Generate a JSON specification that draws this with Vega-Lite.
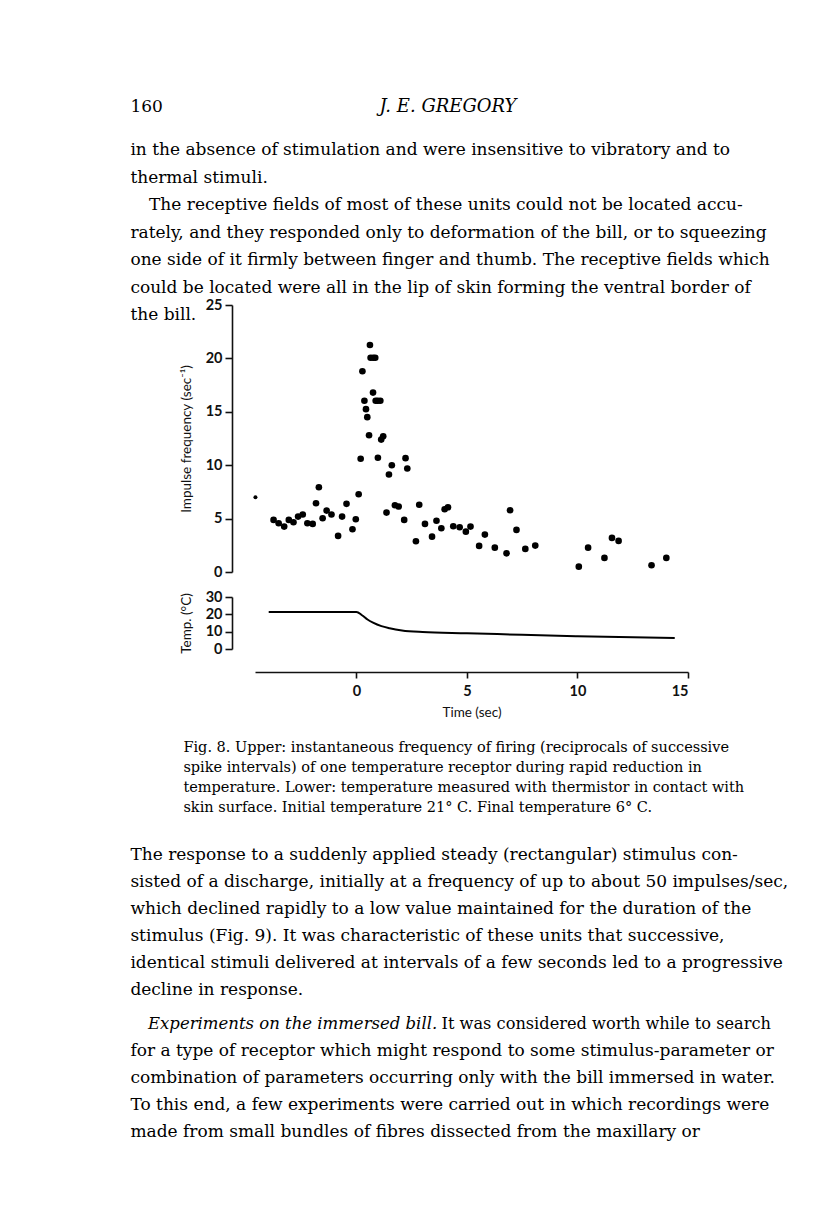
{
  "$schema": "https://vega.github.io/schema/vega-lite/v6.json",
  "background": "white",
  "padding": {"left": 130, "top": 0, "right": 5, "bottom": 5},
  "bounds": "flush",
  "spacing": 25,
  "config": {
    "view": {"stroke": null},
    "axis": {
      "domainColor": "#111", "tickColor": "#111", "labelColor": "#111", "titleColor": "#111",
      "domainWidth": 1.6, "tickWidth": 1.6, "grid": false,
      "labelFont": "Lato", "labelFontSize": 14.5, "labelFontWeight": "bold",
      "titleFont": "Lato", "titleFontSize": 13.5, "titleFontWeight": "normal"
    }
  },
  "vconcat": [
    {
      "width": 433,
      "height": 280,
      "resolve": {"scale": {"y": "independent"}},
      "layer": [
        {
          "data": {"values": [{"t": "160"}]},
          "mark": {"type": "text", "align": "left", "baseline": "middle", "font": "DejaVu Serif", "fontSize": 17, "color": "#000"},
          "encoding": {"text": {"field": "t"}, "x": {"value": -124.6}, "y": {"value": 107}}
        },
        {
          "data": {"values": [{"t": "J. E. GREGORY"}]},
          "mark": {"type": "text", "align": "center", "baseline": "middle", "font": "DejaVu Serif", "fontStyle": "italic", "fontSize": 18, "letterSpacing": 2.2, "color": "#000"},
          "encoding": {"text": {"field": "t"}, "x": {"value": 193}, "y": {"value": 107}}
        },
        {
          "data": {"values": [
            {"i": 0, "t": "in the absence of stimulation and were insensitive to vibratory and to"},
            {"i": 1, "t": "thermal stimuli."},
            {"i": 3, "t": "rately, and they responded only to deformation of the bill, or to squeezing"},
            {"i": 4, "t": "one side of it firmly between finger and thumb. The receptive fields which"},
            {"i": 5, "t": "could be located were all in the lip of skin forming the ventral border of"},
            {"i": 6, "t": "the bill."}
          ]},
          "mark": {"type": "text", "align": "left", "baseline": "middle", "font": "DejaVu Serif", "fontSize": 17, "color": "#000"},
          "encoding": {
            "text": {"field": "t"},
            "x": {"value": -124.6},
            "y": {"field": "i", "type": "quantitative", "axis": null, "scale": {"domain": [0, 6], "range": [150, 315], "nice": false, "zero": false}}
          }
        },
        {
          "data": {"values": [
            {"i": 2, "t": "The receptive fields of most of these units could not be located accu-"}
          ]},
          "mark": {"type": "text", "align": "left", "baseline": "middle", "font": "DejaVu Serif", "fontSize": 17, "color": "#000"},
          "encoding": {
            "text": {"field": "t"},
            "x": {"value": -106},
            "y": {"field": "i", "type": "quantitative", "axis": null, "scale": {"domain": [0, 6], "range": [150, 315], "nice": false, "zero": false}}
          }
        }
      ]
    },
    {
      "width": 433,
      "height": 267,
      "encoding": {
        "x": {"field": "t", "type": "quantitative", "axis": null, "scale": {"domain": [-4.59, 15], "nice": false, "zero": false}},
        "y": {"field": "f", "type": "quantitative",
          "scale": {"domain": [0, 25], "nice": false},
          "axis": {"values": [0, 5, 10, 15, 20, 25], "offset": 23, "tickSize": 7, "labelPadding": 3, "titlePadding": 12, "title": "Impulse frequency (sec\u207b\u00b9)"}}
      },
      "layer": [
        {
          "data": {"values": [
            {"t": -3.75, "f": 4.88}, {"t": -3.52, "f": 4.56}, {"t": -3.27, "f": 4.25}, {"t": -3.06, "f": 4.88},
            {"t": -2.85, "f": 4.66}, {"t": -2.64, "f": 5.19}, {"t": -2.43, "f": 5.38}, {"t": -2.22, "f": 4.56},
            {"t": -1.98, "f": 4.5}, {"t": -1.83, "f": 6.44}, {"t": -1.7, "f": 7.94}, {"t": -1.53, "f": 5.03},
            {"t": -1.35, "f": 5.75}, {"t": -1.13, "f": 5.38}, {"t": -0.83, "f": 3.38}, {"t": -0.65, "f": 5.19},
            {"t": -0.45, "f": 6.38}, {"t": -0.18, "f": 4.0}, {"t": -0.03, "f": 4.94}, {"t": 0.1, "f": 7.28},
            {"t": 0.19, "f": 10.6}, {"t": 0.27, "f": 18.8}, {"t": 0.36, "f": 16.03}, {"t": 0.43, "f": 15.25},
            {"t": 0.49, "f": 14.5}, {"t": 0.57, "f": 12.8}, {"t": 0.61, "f": 21.25}, {"t": 0.64, "f": 20.06},
            {"t": 0.76, "f": 20.06}, {"t": 0.85, "f": 20.06}, {"t": 0.75, "f": 16.8}, {"t": 0.87, "f": 16.03},
            {"t": 0.96, "f": 16.03}, {"t": 1.08, "f": 16.03}, {"t": 0.97, "f": 10.7}, {"t": 1.12, "f": 12.4},
            {"t": 1.21, "f": 12.7}, {"t": 1.36, "f": 5.56}, {"t": 1.47, "f": 9.13}, {"t": 1.6, "f": 10.0},
            {"t": 1.74, "f": 6.25}, {"t": 1.91, "f": 6.13}, {"t": 2.16, "f": 4.88}, {"t": 2.22, "f": 10.66},
            {"t": 2.3, "f": 9.69}, {"t": 2.69, "f": 2.88}, {"t": 2.84, "f": 6.3}, {"t": 3.1, "f": 4.5},
            {"t": 3.42, "f": 3.31}, {"t": 3.62, "f": 4.8}, {"t": 3.84, "f": 4.1}, {"t": 3.99, "f": 5.88},
            {"t": 4.14, "f": 6.06}, {"t": 4.38, "f": 4.28}, {"t": 4.67, "f": 4.19}, {"t": 4.95, "f": 3.78},
            {"t": 5.16, "f": 4.25}, {"t": 5.55, "f": 2.44}, {"t": 5.81, "f": 3.5}, {"t": 6.26, "f": 2.28},
            {"t": 6.79, "f": 1.75}, {"t": 6.95, "f": 5.78}, {"t": 7.24, "f": 3.94}, {"t": 7.64, "f": 2.16},
            {"t": 8.09, "f": 2.47}, {"t": 10.06, "f": 0.5}, {"t": 10.48, "f": 2.28}, {"t": 11.22, "f": 1.32},
            {"t": 11.56, "f": 3.19}, {"t": 11.86, "f": 2.91}, {"t": 13.35, "f": 0.63}, {"t": 14.02, "f": 1.32}
          ]},
          "mark": {"type": "circle", "size": 44, "color": "#000", "opacity": 1}
        },
        {
          "data": {"values": [{"t": -4.57, "f": 7.0}]},
          "mark": {"type": "circle", "size": 16, "color": "#000", "opacity": 1}
        }
      ]
    },
    {
      "width": 433,
      "height": 52,
      "data": {"values": [
        {"t": -3.97, "c": 21.4}, {"t": 0.0, "c": 21.4}, {"t": 0.25, "c": 19.5}, {"t": 0.5, "c": 17.0},
        {"t": 0.75, "c": 15.2}, {"t": 1.13, "c": 13.2}, {"t": 1.5, "c": 12.0}, {"t": 2.06, "c": 10.7},
        {"t": 2.99, "c": 9.8}, {"t": 5.0, "c": 9.1}, {"t": 7.49, "c": 8.2}, {"t": 10.0, "c": 7.4}, {"t": 14.4, "c": 6.3}
      ]},
      "mark": {"type": "line", "color": "#000", "strokeWidth": 2, "interpolate": "monotone"},
      "encoding": {
        "x": {"field": "t", "type": "quantitative", "scale": {"domain": [-4.59, 15], "nice": false, "zero": false},
          "axis": {"values": [0, 5, 10, 15], "offset": 23, "tickSize": 6, "labelPadding": 6, "titlePadding": 8, "title": "Time (sec)"}},
        "y": {"field": "c", "type": "quantitative", "scale": {"domain": [0, 30], "nice": false},
          "axis": {"values": [0, 10, 20, 30], "offset": 23, "tickSize": 7, "labelPadding": 3, "titlePadding": 12, "title": "Temp. (\u00b0C)"}}
      }
    },
    {
      "width": 433,
      "height": 470,
      "resolve": {"scale": {"y": "independent"}},
      "layer": [
        {
          "data": {"values": [
            {"i": 0, "t": "Fig. 8. Upper: instantaneous frequency of firing (reciprocals of successive"},
            {"i": 1, "t": "spike intervals) of one temperature receptor during rapid reduction in"},
            {"i": 2, "t": "temperature. Lower: temperature measured with thermistor in contact with"},
            {"i": 3, "t": "skin surface. Initial temperature 21\u00b0 C. Final temperature 6\u00b0 C."}
          ]},
          "mark": {"type": "text", "align": "left", "baseline": "middle", "font": "DejaVu Serif", "fontSize": 14.5, "color": "#000"},
          "encoding": {
            "text": {"field": "t"},
            "x": {"value": -71.6},
            "y": {"field": "i", "type": "quantitative", "axis": null, "scale": {"domain": [0, 3], "range": [74, 134], "nice": false, "zero": false}}
          }
        },
        {
          "data": {"values": [
            {"i": 0, "t": "The response to a suddenly applied steady (rectangular) stimulus con-"},
            {"i": 1, "t": "sisted of a discharge, initially at a frequency of up to about 50 impulses/sec,"},
            {"i": 2, "t": "which declined rapidly to a low value maintained for the duration of the"},
            {"i": 3, "t": "stimulus (Fig. 9). It was characteristic of these units that successive,"},
            {"i": 4, "t": "identical stimuli delivered at intervals of a few seconds led to a progressive"},
            {"i": 5, "t": "decline in response."}
          ]},
          "mark": {"type": "text", "align": "left", "baseline": "middle", "font": "DejaVu Serif", "fontSize": 17, "color": "#000"},
          "encoding": {
            "text": {"field": "t"},
            "x": {"value": -124.6},
            "y": {"field": "i", "type": "quantitative", "axis": null, "scale": {"domain": [0, 5], "range": [181, 316], "nice": false, "zero": false}}
          }
        },
        {
          "data": {"values": [{"t": "Experiments on the immersed bill."}]},
          "mark": {"type": "text", "align": "left", "baseline": "middle", "font": "DejaVu Serif", "fontStyle": "italic", "fontSize": 16.5, "color": "#000"},
          "encoding": {"text": {"field": "t"}, "x": {"value": -107}, "y": {"value": 350}}
        },
        {
          "data": {"values": [{"t": "It was considered worth while to search"}]},
          "mark": {"type": "text", "align": "right", "baseline": "middle", "font": "DejaVu Serif", "fontSize": 16.2, "color": "#000"},
          "encoding": {"text": {"field": "t"}, "x": {"value": 516}, "y": {"value": 350}}
        },
        {
          "data": {"values": [
            {"i": 1, "t": "for a type of receptor which might respond to some stimulus-parameter or"},
            {"i": 2, "t": "combination of parameters occurring only with the bill immersed in water."},
            {"i": 3, "t": "To this end, a few experiments were carried out in which recordings were"},
            {"i": 4, "t": "made from small bundles of fibres dissected from the maxillary or"}
          ]},
          "mark": {"type": "text", "align": "left", "baseline": "middle", "font": "DejaVu Serif", "fontSize": 17, "color": "#000"},
          "encoding": {
            "text": {"field": "t"},
            "x": {"value": -124.6},
            "y": {"field": "i", "type": "quantitative", "axis": null, "scale": {"domain": [0, 4], "range": [350, 458], "nice": false, "zero": false}}
          }
        }
      ]
    }
  ]
}
